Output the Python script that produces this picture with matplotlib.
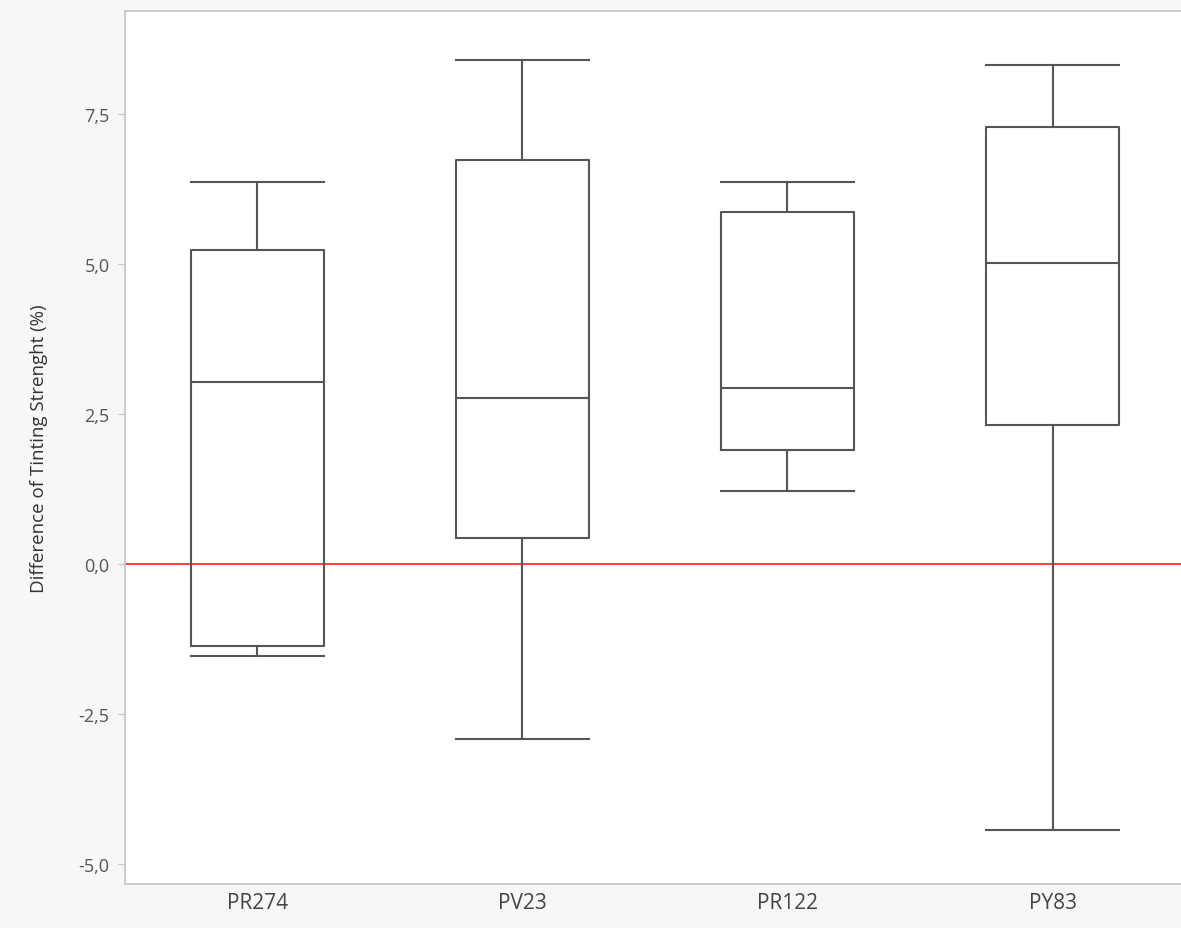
import matplotlib.pyplot as plt

plt.rcParams['font.family'] = ['Open Sans', 'DejaVu Sans']

# Box plot values
pigments = ['PR274', 'PV23', 'PR122', 'PY83']
whisker_low = [-1.53, -2.92, 1.22, -4.43]
q1 = [-1.36, 0.43, 1.90, 2.31]
median = [3.03, 2.76, 2.93, 5.01]
q3 = [5.23, 6.74, 5.87, 7.29]
whisker_high = [6.37, 8.40, 6.36, 8.31]

yticks = [-5.0, -2.5, 0.0, 2.5, 5.0, 7.5]
ytick_labels = ['-5,0', '-2,5', '0,0', '2,5', '5,0', '7,5']

stats = []
for i, name in enumerate(pigments):
    stats.append({'label': name, 'whislo': whisker_low[i], 'q1': q1[i],
                  'med': median[i], 'q3': q3[i], 'whishi': whisker_high[i],
                  'fliers': []})

fig = plt.figure(figsize=(11.81, 9.29), dpi=100, facecolor='#f7f7f7')
ax = fig.add_axes([0.1058, 0.0474, 0.8976, 0.9397])
ax.set_facecolor('white')

line_col = '#555555'
ax.axhline(0, color='#ff1a1a', lw=1.2, zorder=1)
ax.bxp(stats, positions=range(len(pigments)), widths=0.5, capwidths=0.5,
       showfliers=False, patch_artist=False,
       boxprops=dict(color=line_col, lw=1.5),
       whiskerprops=dict(color=line_col, lw=1.5),
       capprops=dict(color=line_col, lw=1.5),
       medianprops=dict(color=line_col, lw=1.5))

ax.set_xlim(-0.5, 3.5)
ax.set_ylim(-5.333, 9.217)
ax.set_yticks(yticks)
ax.set_yticklabels(ytick_labels)
ax.set_xticks(range(len(pigments)))
ax.set_xticklabels(pigments)

for s in ax.spines.values():
    s.set_color('#c4c4c4')
    s.set_linewidth(1.2)
ax.tick_params(axis='y', colors='#c4c4c4', labelcolor='#555555', labelsize=13,
               length=5, pad=6)
ax.tick_params(axis='x', length=0, labelcolor='#444444', labelsize=15, pad=6)

ax.set_ylabel('Difference of Tinting Strenght (%)', fontsize=13.5,
              color='#333333', labelpad=22)

fig.savefig('out.png', dpi=100, facecolor=fig.get_facecolor())
